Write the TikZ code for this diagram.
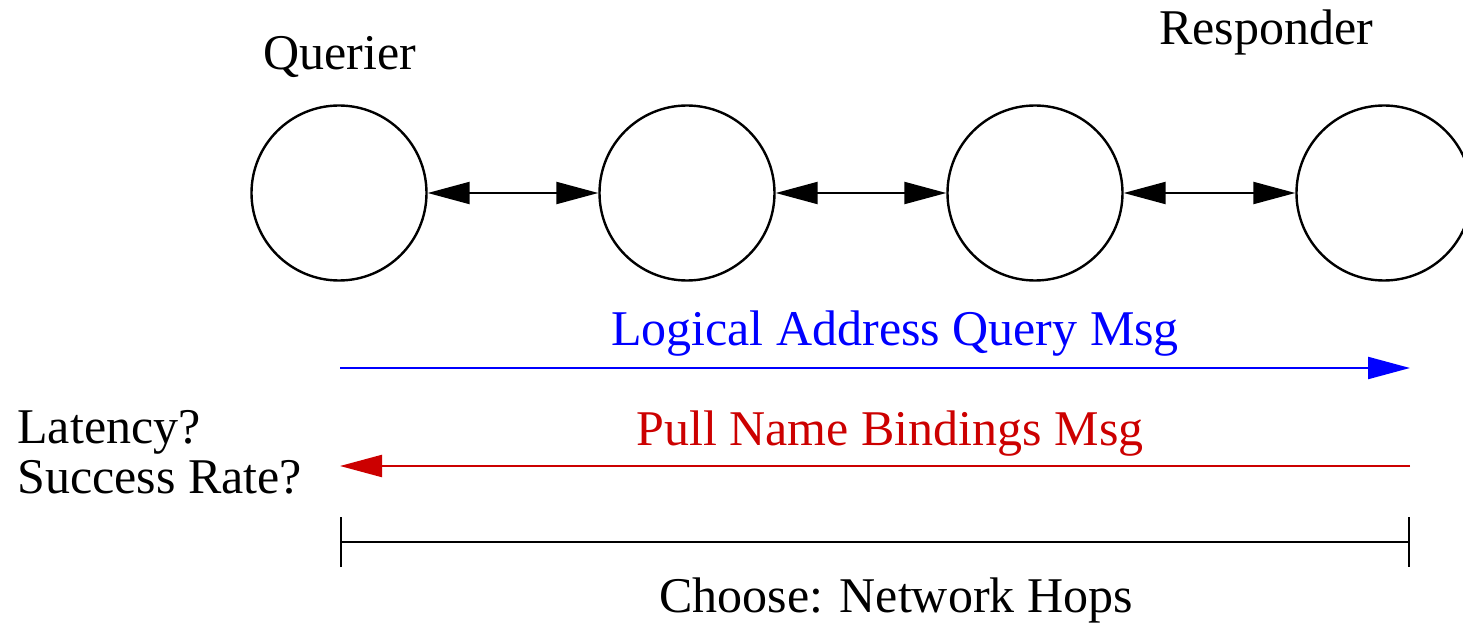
\documentclass[tikz,border=0pt]{standalone}
\usepackage{fontspec}
\setmainfont{LiberationSerif}[Extension=.ttf,UprightFont=*-Regular,BoldFont=*-Bold]
\usetikzlibrary{arrows.meta}
\definecolor{msgblue}{RGB}{0,0,255}
\definecolor{msgred}{RGB}{204,0,0}
\begin{document}
\begin{tikzpicture}[x=0.5pt,y=-0.5pt,>={Triangle[length=21pt,width=11pt]},
	hop/.style={circle,draw,line width=1.2pt,minimum size=87.5pt,inner sep=0pt},
	lbl/.style={anchor=base,font=\rmfamily\fontsize{25}{25}\selectfont,inner sep=0pt}]
			\useasboundingbox (0,0) rectangle (1463,626);
			% the chain of hops
			\node[hop] (q) at (339,193) {};
			\node[hop] (h1) at (687,193) {};
			\node[hop] (h2) at (1035,193) {};
			\node[hop] (r) at (1384,193) {};
			\draw[<->,line width=1.1pt] (q) -- (h1);
			\draw[<->,line width=1.1pt] (h1) -- (h2);
			\draw[<->,line width=1.1pt] (h2) -- (r);
			\node[lbl] (ql) at (340,70) {Querier};
			\node[lbl] (rl) at (1266,45) {Responder};
			% messages
			\coordinate (qa) at (340,368);
			\coordinate (ra) at (1410,368);
			\coordinate (qb) at (340,466);
			\coordinate (rb) at (1410,466);
			\draw[->,msgblue,line width=1.1pt] (qa) -- (ra);
			\node[lbl,msgblue] (ml) at (895,345) {Logical Address Query Msg};
			\draw[->,msgred,line width=1.1pt] (rb) -- (qb);
			\node[lbl,msgred] (pl) at (890,445) {Pull Name Bindings Msg};
			\node[lbl,anchor=base west,align=left] (lat) at (17,493) {Latency?\\Success Rate?};
			% hop count
			\coordinate (qc) at (340,542);
			\coordinate (rc) at (1410,542);
			\draw[{Bar[width=25pt]}-{Bar[width=25pt]},line width=1.1pt] (qc) -- (rc);
			\node[lbl] (cl) at (896,612) {Choose: Network Hops};
\end{tikzpicture}
\end{document}
